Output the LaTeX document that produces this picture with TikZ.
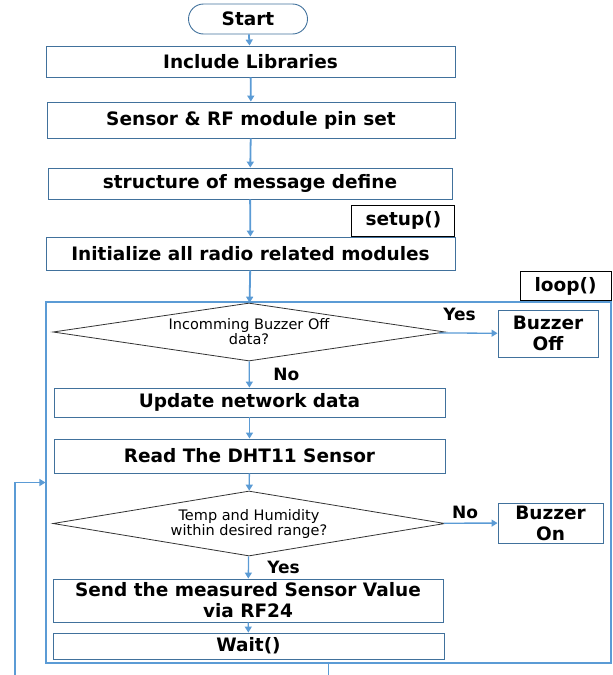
\documentclass[tikz,border=0pt]{standalone}
\usepackage{fontspec}
\setmainfont{DejaVu Sans}
\usetikzlibrary{shapes.geometric, arrows.meta, positioning}
\definecolor{boxblue}{HTML}{41719C}
\definecolor{lineblue}{HTML}{5B9BD5}

\begin{document}
\begin{tikzpicture}[x=1pt, y=-1pt,
  box/.style={draw=boxblue, line width=0.9pt, rectangle, inner sep=1pt, align=center, font=\fontsize{18.5}{21}\selectfont\bfseries},
  term/.style={box, rounded corners=15pt},
  tag/.style={draw=black, line width=1pt, rectangle, inner sep=1pt, font=\fontsize{18.5}{21}\selectfont\bfseries},
  decision/.style={draw=black!80, line width=0.8pt, diamond, aspect=6, inner sep=0pt, align=center, font=\fontsize{14.5}{15}\selectfont},
  flow/.style={draw=lineblue, line width=1.3pt, -{Triangle[length=6pt,width=7pt]}},
  answer/.style={font=\fontsize{17}{19}\selectfont\bfseries}]
  \useasboundingbox (0,0) rectangle (613,675);

  % Nodes
  \node[term, minimum width=119, minimum height=30] (start) at (248,19) {Start};
  \node[box, minimum width=409, minimum height=31] (libs) at (250.5,61.5) {Include Libraries};
  \node[box, minimum width=408, minimum height=36] (pins) at (251,120) {Sensor \& RF module pin set};
  \node[box, minimum width=404, minimum height=31] (msg) at (250,183.5) {structure of message define};
  \node[box, minimum width=409, minimum height=33] (radio) at (250.5,253.5) {Initialize all radio related modules};
  \node[tag, minimum width=103, minimum height=31, anchor=south east] (setup) at (radio.north east) {setup()};

  \node[draw=lineblue, line width=1.1pt, minimum width=565, minimum height=361, inner sep=0pt] (frame) at (328.5,482.5) {};
  \node[tag, minimum width=91, minimum height=29, anchor=south east] (loop) at (frame.north east) {loop()};

  \node[decision, minimum width=392, minimum height=58] (rx) at (249,332) {Incomming Buzzer Off\\data?};
  \node[box, minimum width=100, minimum height=47] (off) at (548,333.5) {Buzzer\\Off};
  \node[box, minimum width=391, minimum height=29] (net) at (249.5,402.5) {Update network data};
  \node[box, minimum width=391, minimum height=34] (dht) at (249.5,456) {Read The DHT11 Sensor};
  \node[decision, minimum width=392, minimum height=65] (range) at (249,523.5) {Temp and Humidity\\within desired range?};
  \node[box, minimum width=105, minimum height=40] (on) at (550.5,523) {Buzzer\\On};
  \node[box, minimum width=390, minimum height=43] (send) at (248,600.5) {Send the measured Sensor Value\\via RF24};
  \node[box, minimum width=391, minimum height=26] (wait) at (248.5,646) {Wait()};

  \coordinate (exit) at (328.5,675);
  \coordinate (back) at (15,675);

  % Edges
  \draw[flow, line width=1.8pt] (start) -- (libs);
  \draw[flow, line width=1.8pt] (libs) -- (pins);
  \draw[flow, line width=1.8pt] (pins) -- (msg);
  \draw[flow, line width=1.8pt] (msg) -- (radio);
  \draw[flow, line width=1.8pt] (radio) -- (rx);
  \draw[flow] (rx) -- node[answer, above=8pt, pos=0.35] {Yes} (off);
  \draw[flow] (rx) -- node[answer, right=20pt] {No} (net);
  \draw[flow] (net) -- (dht);
  \draw[flow] (dht) -- (range);
  \draw[flow] (range) -- node[answer, above, pos=0.4] {No} (on);
  \draw[flow] (range) -- node[answer, right=15pt] {Yes} (send);
  \draw[flow] (send) -- (wait);
  \draw[draw=lineblue, line width=1.8pt] (frame.south) -- (exit);
  \draw[flow, line width=1.8pt] (back) |- (frame.west);
\end{tikzpicture}
\end{document}
